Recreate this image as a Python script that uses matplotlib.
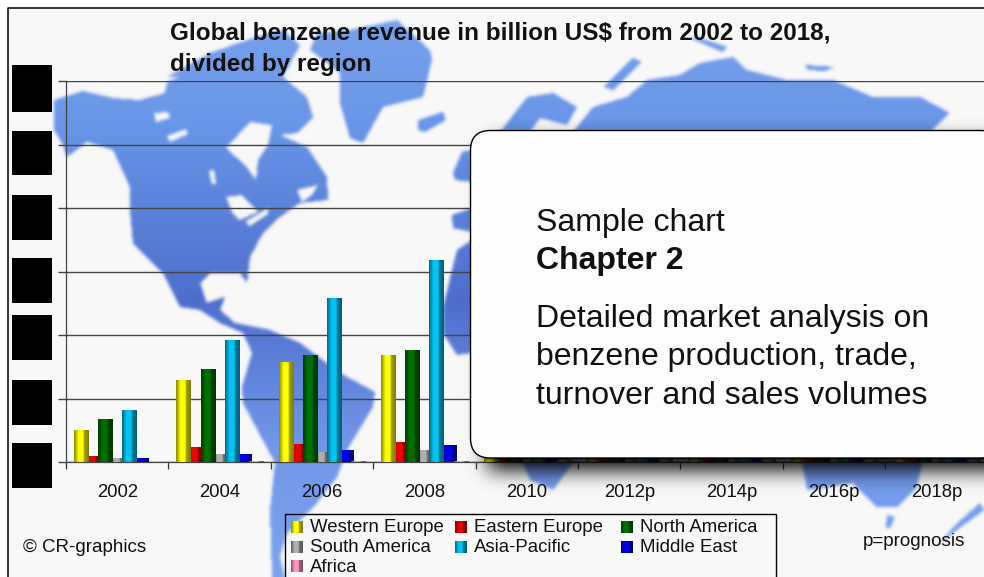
import numpy as np
import matplotlib
matplotlib.use("Agg")
from matplotlib import pyplot as plt
from matplotlib.patches import FancyBboxPatch, Rectangle
from matplotlib.path import Path

plt.rcParams['font.family'] = ['Liberation Sans', 'DejaVu Sans']

W, H = 984, 577

years = ["2002", "2004", "2006", "2008", "2010", "2012p", "2014p", "2016p", "2018p"]
western_europe = [0.50, 1.29, 1.57, 1.68, 1.7, 2.0, 2.1, 2.2, 2.3]
eastern_europe = [0.09, 0.24, 0.28, 0.31, 0.3, 0.35, 0.38, 0.4, 0.42]
north_america = [0.68, 1.46, 1.68, 1.76, 1.8, 2.1, 2.2, 2.3, 2.4]
south_america = [0.06, 0.13, 0.16, 0.19, 0.2, 0.25, 0.28, 0.3, 0.32]
asia_pacific = [0.82, 1.92, 2.58, 3.18, 3.4, 4.0, 4.3, 4.6, 4.9]
middle_east = [0.06, 0.13, 0.19, 0.27, 0.3, 0.4, 0.45, 0.5, 0.55]
africa = [0.0, 0.02, 0.02, 0.02, 0.03, 0.04, 0.05, 0.05, 0.06]

region_names = ["Western Europe", "Eastern Europe", "North America", "South America",
                "Asia-Pacific", "Middle East", "Africa"]
region_values = [western_europe, eastern_europe, north_america, south_america,
                 asia_pacific, middle_east, africa]
region_colors = ["#ffff00", "#f00000", "#007000", "#b0b0b0", "#00c4f4", "#0000f0", "#ff96c4"]
region_z = [4, 3, 4, 3, 4, 3, 3]

# background map outlines, picture pixels
americas = [(54, 100), (83, 91), (113, 98), (140, 100), (165, 93), (167, 82), (193, 72), (240, 70),
            (283, 77), (307, 97), (313, 117), (297, 133), (280, 135), (307, 147), (327, 177),
            (328, 200), (300, 203), (280, 217), (263, 233), (250, 257), (247, 283), (240, 273),
            (210, 273), (200, 283), (207, 303), (225, 297), (220, 310), (235, 323), (270, 330),
            (300, 343), (340, 373), (375, 392), (373, 407), (347, 450), (337, 477), (317, 503),
            (287, 533), (280, 557), (285, 577), (272, 577), (270, 510), (275, 463), (243, 403),
            (242, 387), (252, 353), (243, 333), (220, 323), (200, 310), (180, 307), (163, 273),
            (133, 243), (130, 210), (130, 187), (113, 150), (87, 142), (67, 157), (62, 143),
            (54, 130)]
hudson = [(226, 148), (250, 122), (272, 125), (268, 145), (258, 160), (256, 180), (245, 165)]
lakes = [(226, 197), (242, 195), (258, 212), (240, 220), (232, 212)]
lake2 = [(245, 222), (268, 208), (268, 214), (250, 226)]
gulf_st = [(297, 190), (318, 185), (312, 195), (302, 202)]
baja = [(150, 262), (161, 288), (155, 288), (148, 268)]
lake3 = [(154, 113), (168, 112), (170, 118), (156, 122)]
lake4 = [(167, 136), (186, 129), (188, 134), (170, 142)]
lake5 = [(209, 171), (214, 170), (216, 184), (212, 184)]
arctic1 = [(167, 77), (210, 53), (253, 38), (283, 30), (300, 45), (283, 77)]
greenland = [(397, 20), (430, 50), (432, 60), (423, 97), (383, 107), (363, 143), (350, 138),
             (340, 103), (340, 73), (310, 50), (317, 33), (350, 30)]
iceland = [(418, 120), (443, 112), (446, 120), (425, 132), (418, 130)]
africa_map = [(443, 307), (457, 250), (472, 240), (472, 353), (457, 355), (443, 333)]
europe_bit = [(453, 173), (462, 152), (472, 150), (472, 182), (455, 180)]
europe_bit2 = [(452, 215), (472, 208), (472, 232), (453, 228)]
scandinavia = [(500, 132), (527, 97), (553, 93), (577, 107), (567, 125), (540, 118), (530, 132)]
russia = [(573, 132), (593, 107), (627, 97), (647, 80), (680, 75), (700, 63), (733, 57), (747, 70),
          (787, 80), (833, 80), (873, 97), (920, 97), (950, 113), (930, 132)]
novaya = [(603, 87), (633, 58), (642, 62), (613, 90)]
isle1 = [(690, 38), (697, 37), (727, 47), (722, 52)]
isle2 = [(805, 65), (835, 67), (825, 71), (808, 70)]
africa_low = [(500, 450), (580, 450), (573, 463), (553, 490), (530, 480), (523, 463)]
australia = [(800, 450), (925, 450), (917, 487), (897, 507), (877, 507), (853, 483), (807, 490)]
tasmania = [(887, 515), (895, 517), (890, 528), (886, 528)]
new_zealand = [(980, 503), (984, 510), (953, 533), (937, 547), (955, 525)]
land_parts = [americas, greenland, iceland, arctic1, africa_map, europe_bit, europe_bit2,
              scandinavia, russia, novaya, isle1, isle2, africa_low, australia, tasmania, new_zealand]
water_parts = [hudson, lakes, lake2, gulf_st, baja, lake3, lake4, lake5]


def blur(a, sigma):
    r = int(3 * sigma)
    k = np.exp(-0.5 * (np.arange(-r, r + 1) / sigma) ** 2)
    k = k / k.sum()
    a = np.apply_along_axis(lambda v: np.convolve(np.pad(v, r, mode='edge'), k, mode='valid'), 0, a)
    a = np.apply_along_axis(lambda v: np.convolve(np.pad(v, r, mode='edge'), k, mode='valid'), 1, a)
    return a


def cylinder(color):
    c = np.array(matplotlib.colors.to_rgb(color))
    stops = np.interp(np.linspace(0, 1, 24), [0, 0.3, 0.62, 0.7, 1], [0.55, 1, 1, 0.62, 0.5])
    return (stops[:, None] * c)[None, :, :]


yy, xx = np.mgrid[0:H, 0:W]
pts = np.column_stack([xx.ravel() + 0.5, yy.ravel() + 0.5])
mask = np.zeros((H, W))
for part in land_parts:
    mask[Path(part + [part[0]]).contains_points(pts).reshape(H, W)] = 1
for part in water_parts:
    mask[Path(part + [part[0]]).contains_points(pts).reshape(H, W)] = 0
mask = blur(mask, 1.6)

row = np.arange(H)
land_r = np.interp(row, [0, 120, 300, 440, 577], [122, 105, 78, 112, 122])
land_g = np.interp(row, [0, 120, 300, 440, 577], [163, 150, 110, 150, 165])
land_b = np.interp(row, [0, 120, 300, 440, 577], [236, 232, 205, 232, 240])
land = np.dstack([np.tile(c[:, None], (1, W)) for c in (land_r, land_g, land_b)]) / 255
paper = np.full((H, W, 3), 248 / 255)
bg = paper * (1 - mask[:, :, None]) + land * mask[:, :, None]

fig = plt.figure(figsize=(W / 100, H / 100), dpi=100, facecolor="white")

ax_bg = fig.add_axes([0, 0, 1, 1], zorder=0)
ax_bg.imshow(bg, extent=(0, W, H, 0), aspect='auto', interpolation='nearest')
ax_bg.set_xlim(0, W)
ax_bg.set_ylim(H, 0)
ax_bg.axis('off')
ax_bg.add_patch(Rectangle((-10, -10), 17.5, H + 20, fc="white", ec="none"))
ax_bg.add_patch(Rectangle((-10, -10), W + 20, 17.5, fc="white", ec="none"))
ax_bg.plot([7.5, 7.5, W], [H, 7.5, 7.5], color="black", lw=1.1)

# chart, one category is 102.4 px wide, one unit is 63.5 px high
ax = fig.add_axes([66 / W, (H - 462) / H, 921.6 / W, 381 / H], zorder=1)
ax.patch.set_alpha(0)
x = np.arange(len(years))
step = 0.118
bar_w = 0.137
for i in range(7):
    pos = x + (i - 3) * step
    bars = ax.bar(pos, region_values[i], width=bar_w, color=region_colors[i], zorder=region_z[i])
    grad = cylinder(region_colors[i])
    for b in bars:
        im = ax.imshow(grad, extent=(b.get_x(), b.get_x() + b.get_width(), 0, b.get_height()),
                       aspect='auto', zorder=region_z[i] + 0.5, interpolation='bilinear')
        im.set_clip_path(b)
ax.set_xlim(-0.5, 8.5)
ax.set_ylim(0, 6)
ax.set_xticks(x - 0.5)
ax.set_xticklabels([])
ax.set_xticks(x, minor=True)
ax.set_xticklabels(years, minor=True, fontsize=13.3, color="#111111")
ax.tick_params(axis='x', which='minor', length=0, pad=16)
ax.tick_params(axis='x', which='major', length=5, width=0.9, color="#333333")
ax.set_yticks(range(7))
ax.set_yticklabels([])
ax.tick_params(axis='y', length=5.5, width=1, color="#444444")
ax.grid(axis='y', color="#444444", lw=1, zorder=1)
ax.set_axisbelow(True)
for s in ['top', 'right']:
    ax.spines[s].set_visible(False)
for s in ['left', 'bottom']:
    ax.spines[s].set_color("#444444")
    ax.spines[s].set_linewidth(0.9)

# overlay in picture pixels
ax_px = fig.add_axes([0, 0, 1, 1], zorder=2)
ax_px.patch.set_alpha(0)
ax_px.axis('off')

box_x, box_y, box_r = 470.5, 130.5, 20
box_w, box_h = 530, 327.5
shadow = np.zeros((H + 60, W + 60))
shadow[130 + 12:458 + 12, 470 + 18:W + 60] = 1
shadow = blur(shadow, 10)[:H, :W]
rgba = np.zeros((H, W, 4))
rgba[:, :, 3] = np.clip(shadow * 1.0, 0, 1)
ax_px.imshow(rgba, extent=(0, W, H, 0), aspect='auto', zorder=1)

ax_px.add_patch(FancyBboxPatch((box_x + box_r, box_y + box_r), box_w - 2 * box_r, box_h - 2 * box_r,
                               boxstyle="round,pad=%d,rounding_size=%d" % (box_r, box_r),
                               fc="#fdfdfd", ec="black", lw=1, zorder=2))
ax_px.text(536, 223, "Sample chart", fontsize=23, color="#111111", va='center', zorder=3)
ax_px.text(536, 261, "Chapter 2", fontsize=23, fontweight='bold', color="#111111", va='center', zorder=3)
for t, ty in zip(["Detailed market analysis on", "benzene production, trade,",
                  "turnover and sales volumes"], [319, 357, 396]):
    ax_px.text(536, ty, t, fontsize=23, color="#111111", va='center', zorder=3)

for top, bot in [(65, 112), (131, 175), (195, 240), (258, 303), (315, 360), (380, 425), (443, 488)]:
    ax_px.add_patch(Rectangle((12, top), 40, bot - top, fc="black", ec="none", zorder=3))

ax_px.text(170, 33, "Global benzene revenue in billion US$ from 2002 to 2018,", fontsize=17.5,
           fontweight='bold', color="#111111", va='center', zorder=3)
ax_px.text(170, 64, "divided by region", fontsize=17.5, fontweight='bold', color="#111111",
           va='center', zorder=3)
ax_px.text(23, 547, "© CR-graphics", fontsize=13.5, color="#111111", va='center', zorder=3)
ax_px.text(863, 542, "p=prognosis", fontsize=13.6, color="#111111", va='center', zorder=3)

ax_px.add_patch(Rectangle((284.5, 513.5), 491.5, 80, fc="none", ec="black", lw=1, zorder=3))
col_x = [291, 455, 621, 291, 455, 621, 291]
row_y = [527, 527, 527, 547, 547, 547, 566]
for i in range(7):
    ax_px.imshow(cylinder(region_colors[i]),
                 extent=(col_x[i], col_x[i] + 12, row_y[i] + 6, row_y[i] - 6),
                 aspect='auto', zorder=4, interpolation='bilinear')
    ax_px.text(col_x[i] + 19, row_y[i] + 1, region_names[i], fontsize=13.4, color="#111111",
               va='center', zorder=4)

ax_px.set_xlim(0, W)
ax_px.set_ylim(H, 0)

fig.savefig("out.png", dpi=100)
